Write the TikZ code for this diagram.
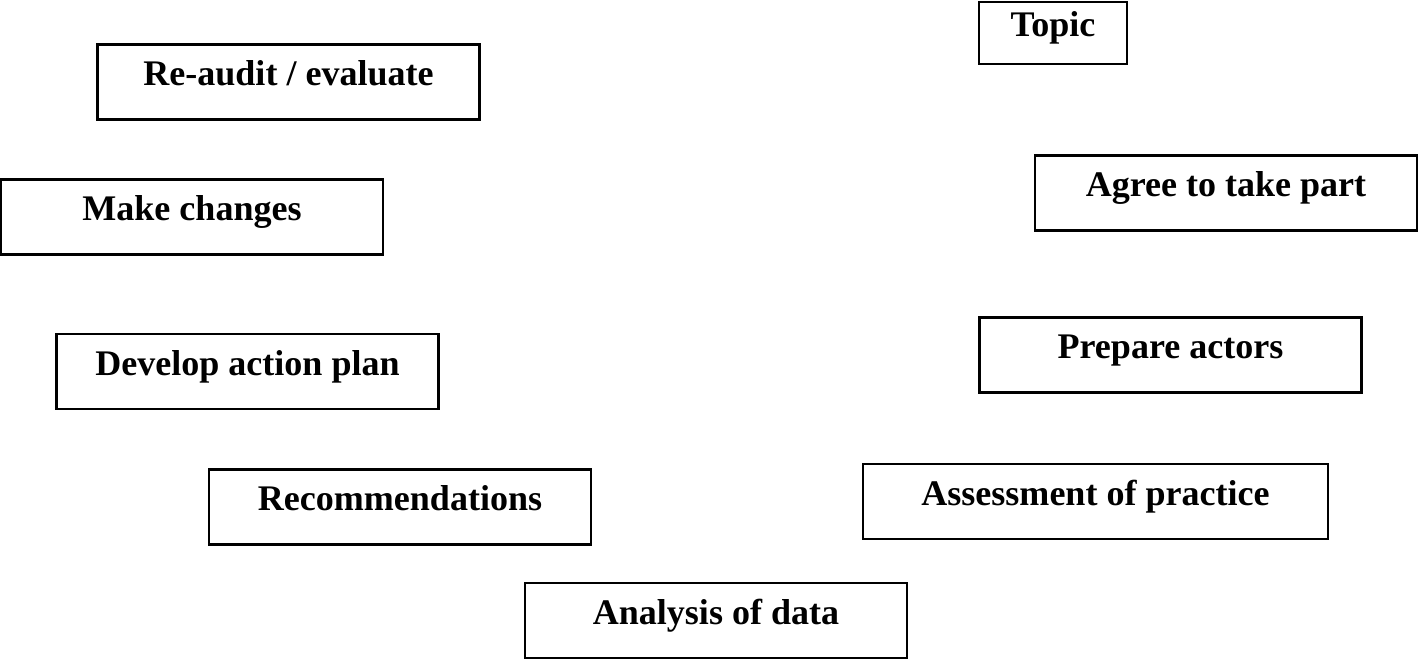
\documentclass[tikz,border=0pt]{standalone}
\usepackage{fontspec}
\setmainfont{Liberation Serif}
\usepackage{tikz}
\usetikzlibrary{positioning}
\tikzstyle{stage} = [rectangle, minimum width=7.64cm, minimum height=1.5cm, text centered, draw=black, line width=1.5pt, inner sep=0pt, text height=0.7em, text depth=0.25em]

\begin{document}
\begin{tikzpicture}[font=\fontsize{20.5}{23}\selectfont\bfseries]

      \useasboundingbox (0,0) rectangle (28.36,-13.18);

      % Nodes
      \node (topic) [stage, minimum width=2.96cm, minimum height=1.24cm] at (21.06,-0.66) {Topic};
      \node (agree) [stage] at (24.52,-3.86) {Agree to take part};
      \node (actors) [stage] at (23.41,-7.10) {Prepare actors};
      \node (assess) [stage, minimum width=9.30cm] at (21.91,-10.03) {Assessment of practice};
      \node (data) [stage] at (14.32,-12.41) {Analysis of data};
      \node (recomm) [stage] at (8.00,-10.14) {Recommendations};
      \node (plan) [stage] at (4.95,-7.43) {Develop action plan};
      \node (changes) [stage] at (3.84,-4.34) {Make changes};
      \node (reaudit) [stage] at (5.77,-1.64) {Re-audit / evaluate};

    \end{tikzpicture}
\end{document}
